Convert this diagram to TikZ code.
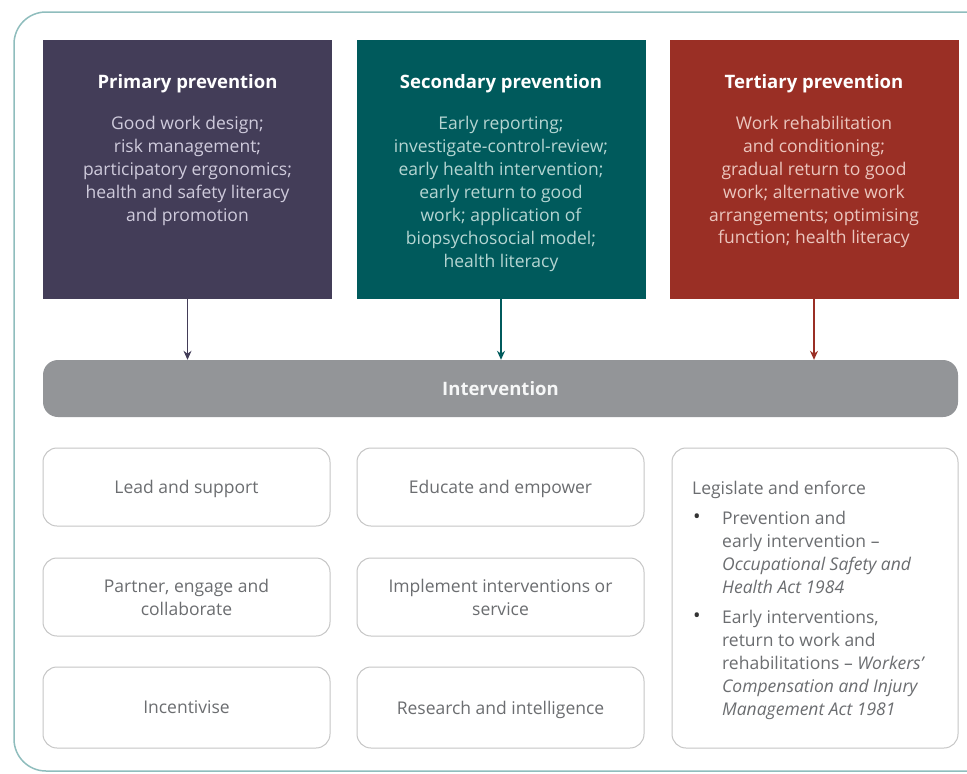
\documentclass[tikz,border=0pt]{standalone}
\usepackage{fontspec}
\setmainfont{Open Sans}
\usetikzlibrary{arrows.meta}
\definecolor{framec}{HTML}{8FBDBD}
\definecolor{primc}{HTML}{433D58}
\definecolor{primt}{HTML}{CFCBDC}
\definecolor{secc}{HTML}{005A5C}
\definecolor{sect}{HTML}{B5D5D2}
\definecolor{terc}{HTML}{9A2F25}
\definecolor{tert}{HTML}{EBC6BE}
\definecolor{barc}{HTML}{939598}
\definecolor{boxline}{HTML}{C6C6C6}
\definecolor{boxtext}{HTML}{6B6D70}
\tikzset{
  prevbox/.style={minimum width=289pt, minimum height=259pt, inner sep=0, draw=none},
  ttl/.style={font=\fontsize{18.5}{23}\selectfont\bfseries, inner sep=0, anchor=center, text depth=0pt},
  bodytxt/.style={font=\fontsize{17.5}{23}\selectfont, inner sep=0, anchor=north, align=center},
  wbox/.style={draw=boxline, line width=1pt, rounded corners=14pt, fill=white, minimum width=287pt, inner sep=0, text=boxtext, font=\fontsize{17.5}{23}\selectfont, align=center},
  conn/.style={line width=1.3pt, -{Stealth[length=9pt,width=8pt]}},
  legtxt/.style={inner sep=0, anchor=north west, align=left, text=boxtext, font=\fontsize{17.5}{23}\selectfont},
  bul/.style={inner sep=0, text=black!80, font=\fontsize{20}{20}\selectfont},
}
\begin{document}
\begin{tikzpicture}[x=1pt,y=-1pt]
\clip (0,0) rectangle (967,774);
\fill[white] (0,0) rectangle (967,774);
% outer frame
\draw[framec, line width=1.5pt, rounded corners=32pt] (14,12) rectangle (1010,771);

% prevention boxes
\node[prevbox, fill=primc] (prim) at (187.5,169.5) {};
\node[prevbox, fill=secc] (sec) at (501,169.5) {};
\node[prevbox, fill=terc] (ter) at (814,169.5) {};

\node[ttl, text=white] (primt) at (187.5,81) {Primary prevention};
\node[ttl, text=white] (sect) at (501,81) {Secondary prevention};
\node[ttl, text=white] (tert) at (814,81) {Tertiary prevention};

\node[bodytxt, text=primt] (primb) at (187.5,115.5) {Good work design;\\risk management;\\participatory ergonomics;\\health and safety literacy\\and promotion};
\node[bodytxt, text=sect] (secb) at (501,115.5) {Early reporting;\\investigate-control-review;\\early health intervention;\\early return to good\\work; application of\\biopsychosocial model;\\health literacy};
\node[bodytxt, text=tert] (terb) at (814,115.5) {Work rehabilitation\\and conditioning;\\gradual return to good\\work; alternative work\\arrangements; optimising\\function; health literacy};

% intervention bar
\node[fill=barc, rounded corners=15pt, minimum width=915pt, minimum height=57pt, inner sep=0, text depth=0pt,
      text=white!92!barc, font=\fontsize{18.5}{23}\selectfont\bfseries] (bar) at (500.5,388.5) {Intervention};

\draw[conn, primc] (prim.south) -- (prim.south |- bar.north);
\draw[conn, secc] (sec.south) -- (sec.south |- bar.north);
\draw[conn, terc] (ter.south) -- (ter.south |- bar.north);

% bottom boxes
\node[wbox, minimum height=78pt, text depth=0pt] (lead) at (186.5,487) {Lead and support};
\node[wbox, minimum height=78pt] (part) at (186.5,597) {Partner, engage and\\collaborate};
\node[wbox, minimum height=81pt, text depth=0pt] (inc) at (186.5,707.5) {Incentivise};
\node[wbox, minimum height=78pt, text depth=0pt] (edu) at (500.5,487) {Educate and empower};
\node[wbox, minimum height=78pt] (impl) at (500.5,597) {Implement interventions or\\service};
\node[wbox, minimum height=81pt, text depth=0pt] (res) at (500.5,707.5) {Research and intelligence};
\node[wbox, minimum width=286pt, minimum height=300pt] (leg) at (815,598) {};

\node[legtxt] (legh) at (692,480.5) {Legislate and enforce};
\node[bul] (bul1) at (697,519) {•};
\node[legtxt] (item1) at (722,510.5) {Prevention and\\early intervention –\\\textit{Occupational Safety and}\\\textit{Health Act 1984}};
\node[bul] (bul2) at (697,618) {•};
\node[legtxt] (item2) at (722,609.5) {Early interventions,\\return to work and\\rehabilitations – \textit{Workers'}\\\textit{Compensation and Injury}\\\textit{Management Act 1981}};
\end{tikzpicture}
\end{document}
